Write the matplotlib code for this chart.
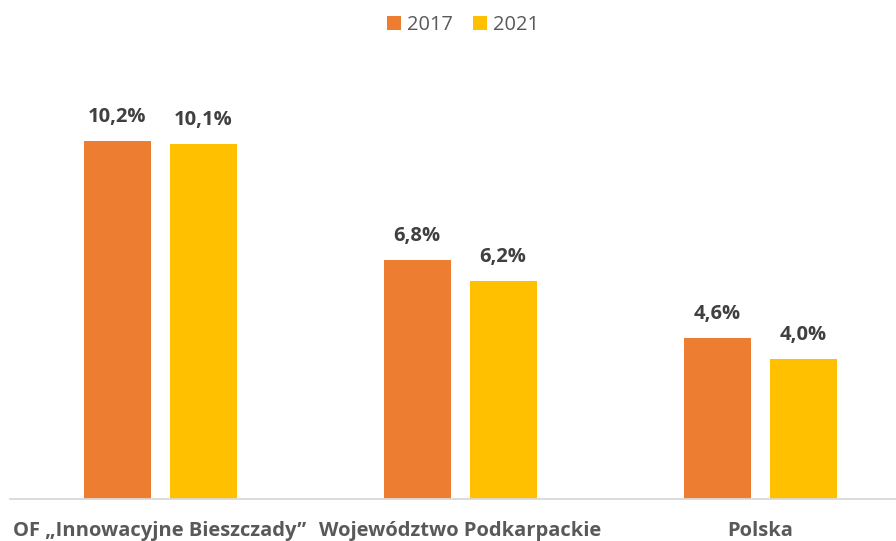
import matplotlib
matplotlib.use("Agg")
import matplotlib.pyplot as plt
import numpy as np

categories = ["OF \u201eInnowacyjne Bieszczady\u201d", "Wojew\u00f3dztwo Podkarpackie", "Polska"]
series_names = ["2017", "2021"]
values_2017 = [10.2, 6.8, 4.6]
values_2021 = [10.1, 6.2, 4.0]
colors = ["#ED7D31", "#FFC000"]

plt.rcParams['font.family'] = ['Open Sans', 'DejaVu Sans']

W, H = 896, 541
fig = plt.figure(figsize=(W/100, H/100), dpi=100)
ax_left = 10 / W
ax_width = 900 / W
ax_bottom = (H - 499) / H
ax_top_px = 60
ax_height = (499 - ax_top_px) / H
ax = fig.add_axes([ax_left, ax_bottom, ax_width, ax_height])

x = np.arange(len(categories))
bw = 67 / 300
off = 43 / 300
bars1 = ax.bar(x - off, values_2017, bw, color=colors[0], label=series_names[0], zorder=2)
bars2 = ax.bar(x + off, values_2021, bw, color=colors[1], label=series_names[1], zorder=2)

ax.set_xlim(-0.5, 2.5)
ymax = (499 - ax_top_px) / 35.1
ax.set_ylim(0, ymax)

for bars, vals in ((bars1, values_2017), (bars2, values_2021)):
    for b, v in zip(bars, vals):
        ax.annotate(f"{v:.1f}%".replace('.', ','), (b.get_x() + b.get_width()/2, v),
                    xytext=(0, 24), textcoords='offset pixels', ha='center', va='center',
                    fontsize=14.5, fontweight='bold', color='#404040')

for s in ['top', 'right', 'left']:
    ax.spines[s].set_visible(False)
ax.spines['bottom'].set_color('#D9D9D9')
ax.spines['bottom'].set_linewidth(1.3)
ax.set_yticks([])
ax.set_xticks(x)
ax.set_xticklabels(categories, fontsize=14.5, fontweight='bold', color='#595959')
ax.tick_params(axis='x', length=0, pad=16)

leg = fig.legend(handles=[bars1, bars2], labels=series_names, loc='center',
                 bbox_to_anchor=(463 / W, 1 - 25 / H), ncol=2, frameon=False,
                 fontsize=14.4, handlelength=0.7, handleheight=0.7, handletextpad=0.3,
                 columnspacing=1.05, labelcolor='#595959', borderpad=0.2)

fig.savefig("out.png", dpi=100)
